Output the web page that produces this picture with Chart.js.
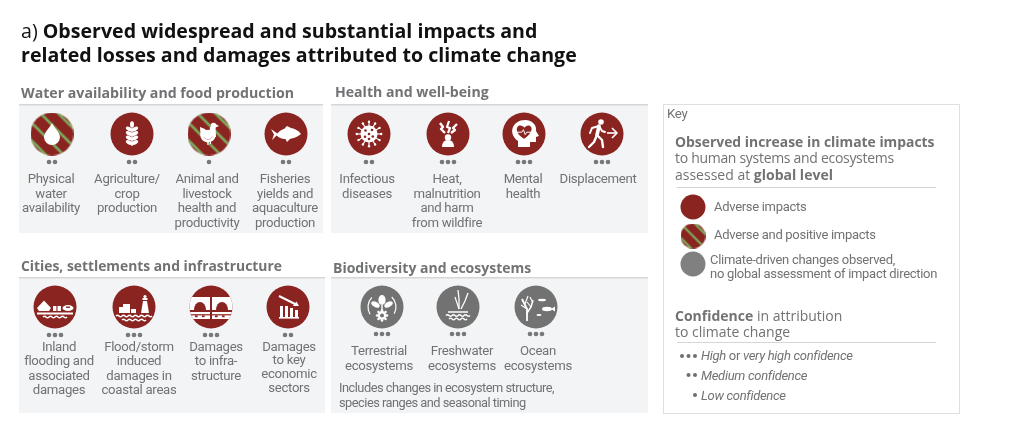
<!DOCTYPE html>
<html>
<head>
<meta charset="utf-8">
<style>
  html, body { margin: 0; padding: 0; background: #fff; }
  canvas { display: block; }
</style>
<script src="https://cdn.jsdelivr.net/npm/chart.js@4"></script>
</head>
<body>
<canvas id="impactChart" width="1024" height="442"></canvas>
<script>
// what the figure says
const titleLines = [
  [["a) ", false], ["Observed widespread and substantial impacts and", true]],
  [["related losses and damages attributed to climate change", true]],
];
const groupNames = [
  "Water availability and food production",
  "Health and well-being",
  "Cities, settlements and infrastructure",
  "Biodiversity and ecosystems",
];
const waterLabels = [
  ["Physical", "water", "availability"],
  ["Agriculture/", "crop", "production"],
  ["Animal and", "livestock", "health and", "productivity"],
  ["Fisheries", "yields and", "aquaculture", "production"],
];
const healthLabels = [
  ["Infectious", "diseases"],
  ["Heat,", "malnutrition", "and harm", "from wildfire"],
  ["Mental", "health"],
  ["Displacement"],
];
const citiesLabels = [
  ["Inland", "flooding and", "associated", "damages"],
  ["Flood/storm", "induced", "damages in", "coastal areas"],
  ["Damages", "to infra-", "structure"],
  ["Damages", "to key", "economic", "sectors"],
];
const bioLabels = [
  ["Terrestrial", "ecosystems"],
  ["Freshwater", "ecosystems"],
  ["Ocean", "ecosystems"],
];
const bioNote = ["Includes changes in ecosystem structure,", "species ranges and seasonal timing"];

// confidence = number of dots, direction: a = adverse, m = mixed, g = no direction
const waterConfidence = [2, 2, 1, 2];
const healthConfidence = [2, 3, 3, 3];
const citiesConfidence = [3, 3, 3, 2];
const bioConfidence = [3, 3, 3];
const waterDirection = ["m", "a", "m", "a"];
const healthDirection = ["a", "a", "a", "a"];
const citiesDirection = ["a", "a", "a", "a"];
const bioDirection = ["g", "g", "g"];
const waterGlyphs = ["drop", "wheat", "hen", "fish"];
const healthGlyphs = ["virus", "heat", "mind", "runner"];
const citiesGlyphs = ["flood", "coast", "bridge", "econ"];
const bioGlyphs = ["land", "reeds", "ocean"];

const keyDirections = ["a", "m", "g"];
const keyConfidence = [3, 2, 1];

// layout, in page pixels
const RED = "#8a2421", GREEN = "#7dab5e", GREY = "#727272", TXT = "#717274", RULE = "#d5d6d8", PANEL = "#f3f4f5";
const LABEL_FONT = "Roboto";
const HEAD_FONT = "'Open Sans'";
const groups = [
  { name: groupNames[0], labels: waterLabels, conf: waterConfidence, dir: waterDirection, glyphs: waterGlyphs,
    box: [19, 105, 323, 233], headX: 21, headY: 98, headSize: 14.15, iconX: [52, 132, 209, 286], iconY: 134, dotY: 162,
    labelX: [51, 127, 207, 285], labelY: 183, step: [14.6, 14.6, 14.6, 14.6] },
  { name: groupNames[1], labels: healthLabels, conf: healthConfidence, dir: healthDirection, glyphs: healthGlyphs,
    box: [331, 105, 648, 233], headX: 335, headY: 97, headSize: 14.1, iconX: [369, 448, 524, 602], iconY: 134, dotY: 162,
    labelX: [367, 447, 523, 598], labelY: 183, step: [14.6, 14.6, 14.6, 14.6] },
  { name: groupNames[2], labels: citiesLabels, conf: citiesConfidence, dir: citiesDirection, glyphs: citiesGlyphs,
    box: [19, 278, 325, 413], headX: 21, headY: 270.5, headSize: 13.85, iconX: [55, 134, 211, 288], iconY: 307, dotY: 335,
    labelX: [59, 139, 216, 289], labelY: 350.5, step: [14.6, 14.6, 14.6, 13.7] },
  { name: groupNames[3], labels: bioLabels, conf: bioConfidence, dir: bioDirection, glyphs: bioGlyphs,
    box: [331, 278, 648, 413], headX: 333, headY: 273, headSize: 14, iconX: [382, 458, 536], iconY: 307, dotY: 334,
    labelX: [379, 462, 538], labelY: 355, step: [14.6, 14.6, 14.6] },
];
const keyIconX = 693, keyIconY = [207, 236, 264];
const keyDotRight = 695, keyDotY = [356, 375, 395];
const DOT_GAP = 6, KEY_DOT_GAP = 6.5;

function stripedPoint(r, offsets, lineW) {
  const c = document.createElement("canvas");
  const s = Math.ceil(r * 2);
  c.width = s; c.height = s;
  const g = c.getContext("2d");
  g.beginPath(); g.arc(s / 2, s / 2, r, 0, Math.PI * 2); g.fillStyle = RED; g.fill(); g.clip();
  g.strokeStyle = GREEN; g.lineWidth = lineW;
  g.translate(s / 2, s / 2); g.rotate(Math.PI / 4);
  offsets.forEach(o => { g.beginPath(); g.moveTo(-s, o); g.lineTo(s, o); g.stroke(); });
  return c;
}
const iconStripes = stripedPoint(21.5, [-19, -6.5, 6.5, 19], 2.6);
const keyStripes = stripedPoint(12.5, [-10, 0, 10], 2.2);

const iconPoints = [], dotPoints = [];
groups.forEach(gr => {
  gr.iconX.forEach((x, i) => {
    iconPoints.push({ x, y: gr.iconY, dir: gr.dir[i], glyph: gr.glyphs[i] });
    const n = gr.conf[i];
    for (let k = 0; k < n; k++) dotPoints.push({ x: x + (k - (n - 1) / 2) * DOT_GAP, y: gr.dotY });
  });
});
const keyPoints = keyDirections.map((d, i) => ({ x: keyIconX, y: keyIconY[i], dir: d }));
const keyDots = [];
keyConfidence.forEach((n, i) => {
  for (let k = 0; k < n; k++) keyDots.push({ x: keyDotRight - k * KEY_DOT_GAP, y: keyDotY[i] });
});

function dirColor(d) { return d === "g" ? GREY : RED; }

// white pictograms, drawn around (0,0)
function poly(g, pts) {
  g.beginPath();
  pts.forEach((p, i) => i ? g.lineTo(p[0], p[1]) : g.moveTo(p[0], p[1]));
  g.closePath(); g.fill();
}
function line(g, pts, w) {
  g.lineWidth = w; g.beginPath();
  pts.forEach((p, i) => i ? g.lineTo(p[0], p[1]) : g.moveTo(p[0], p[1]));
  g.stroke();
}
function disc(g, x, y, r) { g.beginPath(); g.arc(x, y, r, 0, Math.PI * 2); g.fill(); }
function oval(g, x, y, a, b, rot) { g.beginPath(); g.ellipse(x, y, a, b, rot, 0, Math.PI * 2); g.fill(); }
function wave(g, x0, x1, y, w) {
  g.lineWidth = w; g.beginPath(); g.moveTo(x0, y);
  for (let x = x0; x < x1; x += 6) g.quadraticCurveTo(x + 1.5, y - 1.6, x + 3, y), g.quadraticCurveTo(x + 4.5, y + 1.6, x + 6, y);
  g.stroke();
}
const glyphDraw = {
  drop(g) {
    g.beginPath(); g.moveTo(0, -11);
    g.bezierCurveTo(2, -6, 8, -2, 8, 3); g.arc(0, 3, 8, 0, Math.PI);
    g.bezierCurveTo(-8, -2, -2, -6, 0, -11); g.fill();
  },
  wheat(g) {
    oval(g, 0, -9.5, 2, 3.2, 0);
    [-5, -0.5, 4, 8.5].forEach(y => {
      oval(g, -3, y, 3.4, 1.9, 0.5);
      oval(g, 3, y, 3.4, 1.9, -0.5);
    });
    g.fillRect(-0.7, -6, 1.4, 18);
  },
  hen(g) {
    oval(g, -1, 2, 7.5, 6.2, 0);
    poly(g, [[-8.5, 2], [-9, -7], [-4, -5], [0, 0]]);
    poly(g, [[1, -7], [6.5, -7], [7, 3], [0, 3]]);
    disc(g, 4.5, -8.5, 2.8);
    poly(g, [[6.5, -10], [10, -8], [6.5, -6.5]]);
    g.strokeStyle = "#d9a79f"; g.lineWidth = 0.9; g.beginPath(); g.arc(-1, 1, 4.5, 0.3, 2.6); g.stroke();
    g.strokeStyle = "#fff"; line(g, [[-1, 7], [-1, 11]], 1.3); line(g, [[1.5, 7], [1.5, 10]], 1.1);
  },
  fish(g) {
    g.beginPath(); g.moveTo(-10, 1);
    g.bezierCurveTo(-4, -7, 8, -9, 15, 0);
    g.bezierCurveTo(9, 5, -3, 8, -10, 1); g.fill();
    poly(g, [[-15, -5], [-8, 0], [-14, 6], [-12, 0.5]]);
    poly(g, [[-2, -5], [1, -8], [5, -6]]);
    poly(g, [[-1, 4], [1, 8], [4, 5]]);
  },
  virus(g) {
    disc(g, 0, 0, 8.5);
    g.strokeStyle = "#fff";
    for (let i = 0; i < 12; i++) {
      const a = i * Math.PI / 6;
      line(g, [[Math.cos(a) * 8, Math.sin(a) * 8], [Math.cos(a) * 12, Math.sin(a) * 12]], 1.2);
      disc(g, Math.cos(a) * 12.2, Math.sin(a) * 12.2, 1.2);
    }
    g.fillStyle = RED;
    [[-3.5, -3.5], [3, -4], [0, 0], [-4, 2.8], [3.8, 2.5], [0, 5]].forEach(p => disc(g, p[0], p[1], 1.3));
    g.fillStyle = "#fff";
  },
  heat(g) {
    disc(g, 0, 3.5, 3.2);
    g.beginPath(); g.moveTo(-6, 13); g.quadraticCurveTo(-6, 6, 0, 6); g.quadraticCurveTo(6, 6, 6, 13); g.closePath(); g.fill();
    g.strokeStyle = "#fff";
    line(g, [[-8, -11], [-5, -7], [-7, -5], [-3, -1]], 2.4);
    line(g, [[1, -13], [-1, -7], [2, -6], [0, -1]], 2.2);
    line(g, [[9, -10], [5, -6], [7, -4], [3, -1]], 2.4);
  },
  mind(g) {
    g.beginPath(); g.moveTo(-6, 13); g.lineTo(-6, 7);
    g.bezierCurveTo(-17, -1, -11, -14, 1, -14);
    g.bezierCurveTo(9, -14, 13, -8, 12, -3);
    g.lineTo(15, 2); g.lineTo(12, 3); g.lineTo(12, 8); g.lineTo(6, 8); g.lineTo(6, 13); g.closePath(); g.fill();
    g.save();
    g.translate(0.3, -1); g.scale(0.82, 0.82);
    g.fillStyle = RED;
    g.beginPath(); g.moveTo(0, 7);
    g.bezierCurveTo(-14, -1, -9, -11, -4, -9);
    g.bezierCurveTo(-2, -8.5, 0, -7, 0, -6);
    g.bezierCurveTo(0, -7, 3, -9, 5, -9);
    g.bezierCurveTo(10, -9, 12, -1, 0, 7); g.fill();
    g.strokeStyle = "#fff";
    line(g, [[-9, -1], [-3, -1], [-1, -4], [1, 2], [3, -1], [9, -1]], 1.2);
    g.restore();
  },
  runner(g) {
    g.strokeStyle = "#fff"; g.lineCap = "round";
    disc(g, -1, -12, 2.8);
    line(g, [[-3, -8], [-5, 1]], 3.6);
    line(g, [[-5, 1], [0, 6], [1, 13]], 2.4);
    line(g, [[-5, 1], [-8, 8], [-13, 13]], 2.4);
    line(g, [[-3, -8], [-10, -6], [-12, -1]], 2);
    line(g, [[-3, -8], [0, -3], [3, -2]], 2);
    g.lineCap = "butt";
    line(g, [[5, -1], [14, -1]], 1.6);
    line(g, [[10, -6], [15, -1], [10, 4]], 1.6);
  },
  flood(g) {
    g.strokeStyle = "#fff";
    poly(g, [[-18, 1], [-11, -6.5], [-4, 1], [-6, 4], [-16, 4]]);
    g.fillRect(-2, -1, 3.4, 5); g.fillRect(2.5, -1, 3.4, 5);
    oval(g, 13, 1, 5.5, 3, 0);
    g.fillStyle = RED; g.fillRect(11, -0.5, 4, 1.4); g.fillStyle = "#fff";
    line(g, [[-18, 6.5], [18, 6.5]], 1.8);
    wave(g, -12, 12, 10, 1.5);
  },
  coast(g) {
    g.strokeStyle = "#fff";
    g.fillRect(-15, 0, 5, 6); g.fillRect(-11, -3, 7, 9); g.fillRect(-3, 2, 5, 4);
    poly(g, [[7, 6], [9, -6], [13, -6], [15, 6]]);
    g.fillRect(8.5, -9, 5, 2); disc(g, 11, -10.5, 1.6);
    wave(g, -18, 18, 9, 1.6);
    wave(g, -12, 12, 13, 1.6);
  },
  bridge(g) {
    g.save();
    g.beginPath(); g.arc(0, 0, 21.5, 0, Math.PI * 2); g.clip();
    g.fillRect(-22, -10, 21, 13); g.fillRect(1, -10, 21, 13);
    g.fillStyle = RED;
    oval(g, -11, 3, 6, 8, 0); oval(g, 11, 3, 6, 8, 0);
    g.fillStyle = "#fff";
    g.fillRect(-22, 5, 21, 7); g.fillRect(1, 5, 21, 7);
    g.fillStyle = RED;
    g.fillRect(-22, 7.2, 44, 1.2);
    [-16, -9, 4, 11].forEach(x => g.fillRect(x, 8.4, 2.6, 1.8));
    g.restore();
  },
  econ(g) {
    g.strokeStyle = "#fff";
    g.fillRect(-8, -1, 3, 11); g.fillRect(-3, -1, 3, 11); g.fillRect(2, 1, 3, 9); g.fillRect(7, 3, 3, 7);
    g.fillRect(-9, 10, 20, 1.6);
    line(g, [[-9, -11], [9, -2]], 2);
    poly(g, [[11, -1], [5, -1], [8.5, -5.5]]);
  },
  land(g) {
    g.strokeStyle = "#fff";
    line(g, [[0, 8], [0, -2]], 1.4);
    oval(g, 0, -7, 3.6, 5, 0);
    oval(g, -6.5, -2.5, 4.5, 2.6, 0.5);
    oval(g, 6.5, -2.5, 4.5, 2.6, -0.5);
    for (let i = 0; i < 8; i++) {
      const a = i * Math.PI / 4;
      disc(g, Math.cos(a) * 5, 8.5 + Math.sin(a) * 5, 1.3);
    }
    disc(g, 0, 8.5, 4.4);
    g.fillStyle = GREY; disc(g, 0, 8.5, 2); g.fillStyle = "#fff";
    g.lineWidth = 1.2;
    g.beginPath(); g.arc(0, 0, 14, 2.6, 3.9); g.stroke();
    g.beginPath(); g.arc(0, 0, 14, -0.8, 0.5); g.stroke();
  },
  reeds(g) {
    g.strokeStyle = "#fff";
    line(g, [[1, 2], [1, -8], [0, -17]], 1.3);
    line(g, [[1, 2], [-1, -4], [-3, -10]], 1.2);
    line(g, [[3, 2], [7, -6], [10, -14]], 1.3);
    line(g, [[-10, 5], [10, 5]], 1.5);
    wave(g, -12, 12, 8.5, 1.5);
    wave(g, -9, 9, 12, 1.3);
  },
  ocean(g) {
    g.strokeStyle = "#fff";
    line(g, [[-9, 14], [-9, 2], [-14, -8]], 1.8);
    line(g, [[-9, 6], [-5, 0], [-3, -7]], 1.5);
    line(g, [[-9, 2], [-15, -2]], 1.2);
    line(g, [[-11, -3], [-8, -11]], 1.2);
    line(g, [[-5, 0], [-9, -5]], 1.1);
    line(g, [[-3, -4], [-6, -10]], 1.1);
    oval(g, 6, -7, 4, 1.3, 0);
    oval(g, 11, 2, 5, 2.2, 0);
    poly(g, [[15, 2], [19, -0.5], [19, 4.5]]);
    oval(g, 3, 8, 2.6, 1.1, 0);
  },
};

function runs(g, x, y, parts, size, font, color, spacing) {
  let cx = x;
  g.letterSpacing = (spacing || 0) + "px";
  parts.forEach(p => {
    g.font = (p[2] ? "italic " : "") + (p[1] ? "bold " : "") + size + "px " + font;
    g.fillStyle = color;
    g.fillText(p[0], cx, y);
    cx += g.measureText(p[0]).width;
  });
  g.letterSpacing = "0px";
}

const panelPlugin = {
  id: "panels",
  beforeDatasetsDraw(chart) {
    const g = chart.ctx;
    g.save();
    g.fillStyle = "#fff"; g.fillRect(0, 0, 1024, 442);
    g.textBaseline = "alphabetic"; g.textAlign = "left";
    runs(g, 21, 38, titleLines[0], 19.6, HEAD_FONT, "#111");
    runs(g, 21, 62, titleLines[1], 19.6, HEAD_FONT, "#111");
    groups.forEach(gr => {
      const b = gr.box;
      g.fillStyle = PANEL; g.fillRect(b[0], b[1], b[2] - b[0], b[3] - b[1]);
      g.fillStyle = RULE; g.fillRect(b[0], b[1] - 1, b[2] - b[0], 1.5);
      runs(g, gr.headX, gr.headY, [[gr.name, true]], gr.headSize, HEAD_FONT, TXT);
      g.textAlign = "center"; g.font = "13.2px " + LABEL_FONT; g.fillStyle = TXT;
      g.letterSpacing = "-0.3px";
      gr.labels.forEach((lines, i) => lines.forEach((t, k) => {
        g.fillText(t, gr.labelX[i], gr.labelY + k * gr.step[i]);
      }));
      g.letterSpacing = "0px";
      g.textAlign = "left";
    });
    bioNote.forEach((t, k) => runs(g, 339, 392 + k * 15, [[t, false]], 12.8, LABEL_FONT, TXT, -0.5));

    // key box
    g.strokeStyle = "#dedfe0"; g.lineWidth = 1; g.strokeRect(663.5, 104.5, 296, 309);
    const ks = 14;
    runs(g, 667, 118, [["Key", false]], 13.2, LABEL_FONT, TXT, -0.3);
    runs(g, 675, 147, [["Observed increase in climate impacts", true]], 13.9, HEAD_FONT, TXT);
    runs(g, 675, 163, [["to human systems and ecosystems", false]], ks, HEAD_FONT, TXT, -0.3);
    runs(g, 675, 180, [["assessed at ", false], ["global level", true]], ks, HEAD_FONT, TXT);
    g.fillStyle = RULE; g.fillRect(677, 187, 259, 1);
    runs(g, 714, 211, [["Adverse impacts", false]], 13, LABEL_FONT, TXT, -0.3);
    runs(g, 714, 239, [["Adverse and positive impacts", false]], 13, LABEL_FONT, TXT, -0.3);
    runs(g, 710, 264, [["Climate-driven changes observed,", false]], 13, LABEL_FONT, TXT, -0.3);
    runs(g, 710, 278, [["no global assessment of impact direction", false]], 13, LABEL_FONT, TXT, -0.3);
    runs(g, 675, 321, [["Confidence", true], [" in attribution", false]], ks, HEAD_FONT, TXT);
    runs(g, 675, 337, [["to climate change", false]], ks, HEAD_FONT, TXT);
    g.fillStyle = RULE; g.fillRect(677, 342, 259, 1);
    runs(g, 701, 360, [["High", false, true], [" or ", false], ["very high confidence", false, true]], 13, LABEL_FONT, TXT, -0.3);
    runs(g, 701, 380, [["Medium confidence", false, true]], 13, LABEL_FONT, TXT, -0.3);
    runs(g, 701, 400, [["Low confidence", false, true]], 13, LABEL_FONT, TXT, -0.3);
    g.restore();
  },
  afterDatasetsDraw(chart) {
    const g = chart.ctx;
    chart.getDatasetMeta(0).data.forEach((el, i) => {
      g.save();
      g.translate(el.x, el.y);
      g.fillStyle = "#fff"; g.strokeStyle = "#fff"; g.lineJoin = "round";
      glyphDraw[iconPoints[i].glyph](g);
      g.restore();
    });
  },
};

new Chart(document.getElementById("impactChart"), {
  type: "scatter",
  data: {
    datasets: [
      {
        label: "Impacts",
        data: iconPoints,
        pointRadius: 21.5,
        pointStyle: iconPoints.map(p => (p.dir === "m" ? iconStripes : "circle")),
        backgroundColor: iconPoints.map(p => dirColor(p.dir)),
        borderWidth: 0,
      },
      { label: "Confidence", data: dotPoints, pointRadius: 2.3, backgroundColor: "#77787a", borderWidth: 0 },
      {
        label: "Key directions",
        data: keyPoints,
        pointRadius: 12.5,
        pointStyle: keyPoints.map(p => (p.dir === "m" ? keyStripes : "circle")),
        backgroundColor: keyPoints.map(p => (p.dir === "g" ? "#808080" : RED)),
        borderWidth: 0,
      },
      { label: "Key confidence", data: keyDots, pointRadius: 2, backgroundColor: "#6e6f71", borderWidth: 0 },
    ],
  },
  options: {
    responsive: false,
    animation: false,
    layout: { padding: 0, autoPadding: false },
    plugins: { legend: { display: false }, tooltip: { enabled: false } },
    scales: {
      x: { type: "linear", display: false, min: 0, max: 1024 },
      y: { type: "linear", display: false, min: 0, max: 442, reverse: true },
    },
  },
  plugins: [panelPlugin],
});
</script>
</body>
</html>
